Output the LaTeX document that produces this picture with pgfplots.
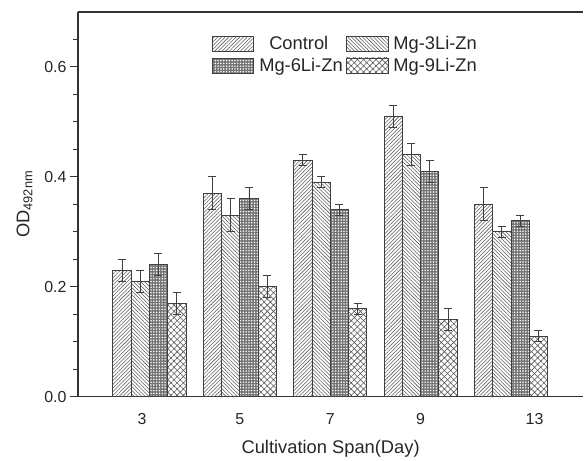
\documentclass[border=0pt]{standalone}
\usepackage{pgfplots}
\pgfplotsset{compat=1.18}
\usepackage{pgfplotstable}
\usetikzlibrary{patterns,patterns.meta}
\usepackage{fontspec}
\setmainfont{Liberation Sans}
\definecolor{barline}{gray}{0.25}
\definecolor{hatch}{gray}{0.35}
\pgfplotstableread{
x c ce m3 m3e m6 m6e m9 m9e
0 0.23 0.02 0.21 0.02 0.24 0.02 0.17 0.02
1 0.37 0.03 0.33 0.03 0.36 0.02 0.20 0.02
2 0.43 0.01 0.39 0.01 0.34 0.01 0.16 0.01
3 0.51 0.02 0.44 0.02 0.41 0.02 0.14 0.02
4 0.35 0.03 0.30 0.01 0.32 0.01 0.11 0.01
}\data
\tikzset{lg/.style={/pgfplots/legend image code/.code={\draw[##1,draw=barline,line width=0.8bp] (0bp,-7.5bp) rectangle (42bp,7.5bp);}}}
\begin{document}
\begin{tikzpicture}
\begin{axis}[
  name=ax,
  scale only axis,
  width=506bp, height=385bp,
  xmin=-0.79, xmax=4.80,
  ymin=0, ymax=0.7,
  ybar=0pt, bar width=18.3bp,
  axis y line*=left, axis x line*=bottom,
  axis line style={-, line width=1.3bp, draw=black!80},
  xtick={-0.08,1,2,3,4.26},
  xticklabels={3,5,7,9,13},
  major x tick style={draw=none},
  xticklabel style={yshift=-5bp},
  ytick={0,0.2,0.4,0.6},
  minor ytick={0.05,0.1,0.15,0.25,0.3,0.35,0.45,0.5,0.55,0.65},
  yticklabel style={/pgf/number format/.cd,fixed,fixed zerofill,precision=1},
  /pgf/number format/assume math mode=true,
  tick align=outside,
  major tick length=8bp, minor tick length=5bp,
  every tick/.style={line width=1.1bp, draw=black!80},
  ticklabel style={font=\fontsize{16}{18}\selectfont, text=black!85},
  xlabel={Cultivation Span(Day)},
  ylabel={OD\textsubscript{492nm}},
  label style={font=\fontsize{18.4}{20}\selectfont, text=black!85},
  xlabel shift=9bp,
  ylabel shift=5bp,
  legend style={at={(0.262,0.945)}, anchor=north west, draw=none, fill=none,
    font=\fontsize{18.4}{20}\selectfont, text=black!85, row sep=3bp, inner sep=1bp},
  legend columns=2,
  legend cell align=left,
  /tikz/every odd column/.append style={column sep=3bp},
  /tikz/every even column/.append style={column sep=1bp},
  error bars/y dir=both, error bars/y explicit,
  error bars/error mark options={rotate=90, mark size=4bp, line width=0.8bp, draw=barline},
  error bars/error bar style={line width=0.8bp, draw=barline},
]
\addplot[lg, draw=barline, line width=0.8bp, pattern={Lines[angle=45,distance=2.6bp,line width=0.55bp]}, pattern color=hatch]
  table[x=x, y=c, y error=ce] {\data};
\addlegendentry{\hspace{10bp}Control}
\addplot[lg, draw=barline, line width=0.8bp, pattern={Lines[angle=-45,distance=2.6bp,line width=0.55bp]}, pattern color=hatch]
  table[x=x, y=m3, y error=m3e] {\data};
\addlegendentry{Mg-3Li-Zn}
\addplot[lg, draw=barline, line width=0.8bp, fill=black!55, postaction={pattern={Dots[distance=2.8bp,radius=0.85bp]}, pattern color=white}]
  table[x=x, y=m6, y error=m6e] {\data};
\addlegendentry{Mg-6Li-Zn}
\addplot[lg, draw=barline, line width=0.8bp, pattern={Hatch[angle=45,distance=4.4bp,line width=0.6bp]}, pattern color=hatch]
  table[x=x, y=m9, y error=m9e] {\data};
\addlegendentry{Mg-9Li-Zn}
\end{axis}
\draw[line width=1.3bp, draw=black!80] (ax.north west) -- (ax.north east);
\draw[line width=1.3bp, draw=black!80] ([xshift=-8bp]ax.south west) -- (ax.south west);
\path ([xshift=-78bp,yshift=-64bp]ax.south west) ([yshift=12bp]ax.north east);
\end{tikzpicture}
\end{document}
